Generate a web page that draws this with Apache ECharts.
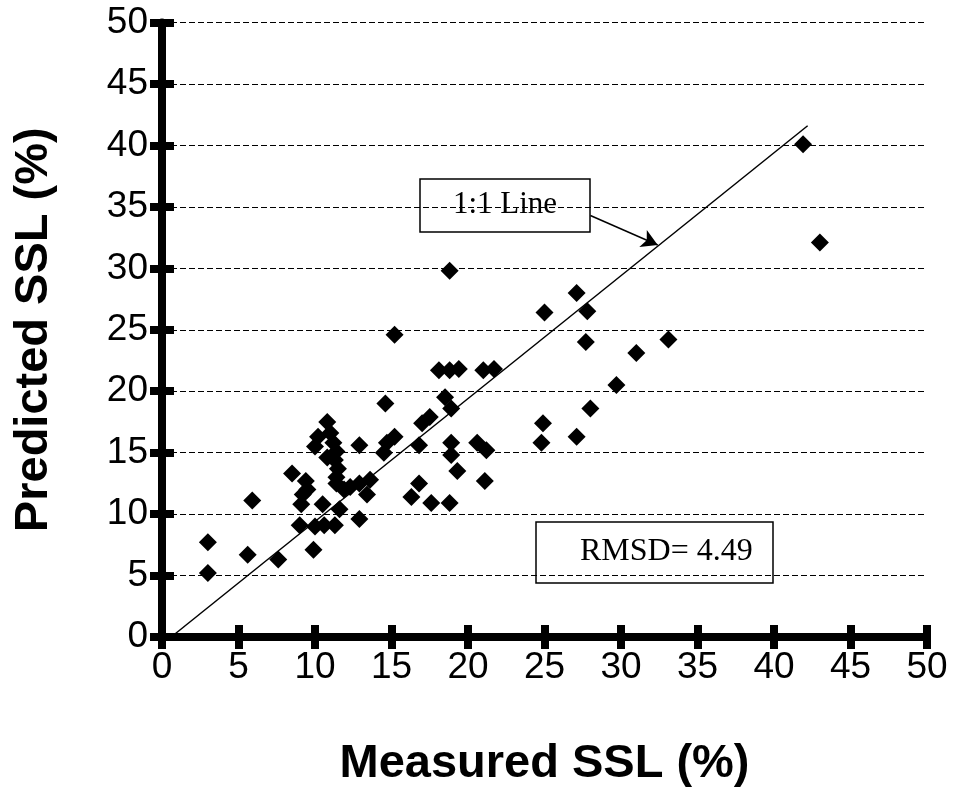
<!DOCTYPE html>
<html>
<head>
<meta charset="utf-8">
<script src="https://cdn.jsdelivr.net/npm/echarts@6/dist/echarts.min.js"></script>
<style>html,body{margin:0;padding:0;background:#fff}#chart{width:953px;height:807px}</style>
</head>
<body>
<div id="chart"></div>
<script>
// ---- data ----
const measured  = [3.0,3.0,5.9,5.6,7.6,8.5,9.9,9.0,10.0,10.6,11.3,12.9,9.1,10.5,11.6,9.2,9.4,9.5,10.8,10.2,10.0,11.0,11.2,11.4,11.3,11.5,11.4,11.4,11.9,12.3,12.9,12.9,13.6,13.4,10.8,14.6,15.2,18.1,18.8,19.4,21.0,21.7,18.5,18.9,17.5,17.0,15.2,14.7,14.5,16.8,18.9,18.9,20.6,21.2,19.3,21.1,16.8,16.3,17.6,18.8,18.8,27.1,25.0,27.8,27.7,31.0,33.1,29.7,28.0,24.9,24.8,27.1,41.9,43.0];
const predicted = [7.7,5.2,11.1,6.7,6.3,13.3,7.1,9.1,9.0,9.1,9.1,9.6,10.8,10.8,10.4,11.6,12.7,12.0,17.5,16.3,15.5,16.6,15.8,15.1,14.4,13.7,13.0,12.5,12.0,12.2,15.6,12.5,12.8,11.6,14.6,19.0,24.6,21.7,21.7,21.8,21.7,21.8,19.5,18.6,17.9,17.4,16.3,15.8,15.0,15.6,15.8,14.8,15.8,15.2,13.5,12.7,12.5,11.4,10.9,10.9,29.8,28.0,26.4,26.5,24.0,23.1,24.2,20.5,18.6,17.4,15.8,16.3,40.1,32.1];
const oneToOneX = [0.6, 42.2];
const oneToOneY = [0.0, 41.6];
const arrowFrom = [28.0, 34.3];
const arrowTo   = [32.4, 31.9];
const axisMin = 0, axisMax = 50, axisStep = 5;
const xTitle = 'Measured SSL (%)';
const yTitle = 'Predicted SSL (%)';
const lineLabel = '1:1 Line';
const rmsdLabel = 'RMSD= 4.49';

const points = measured.map((m, i) => [m, predicted[i]]);
const lineData = oneToOneX.map((x, i) => [x, oneToOneY[i]]);

const sans = '"Liberation Sans", Arial, sans-serif';
const serif = '"Liberation Serif", "Times New Roman", serif';

const chart = echarts.init(document.getElementById('chart'), null, {renderer: 'canvas'});

function baseAxis(extra) {
  return Object.assign({
    type: 'value', min: axisMin, max: axisMax, interval: axisStep,
  }, extra);
}

const option = {
  backgroundColor: '#fff',
  animation: false,
  grid: {left: 162, right: 26, top: 22.5, bottom: 170, containLabel: false, outerBoundsMode: 'none'},
  xAxis: [
    baseAxis({
      position: 'bottom',
      axisLine: {show: true, lineStyle: {color: '#000', width: 8}},
      axisTick: {show: true, inside: false, length: 12, lineStyle: {color: '#000', width: 8}},
      axisLabel: {color: '#000', fontSize: 37, fontFamily: sans, margin: 12},
      splitLine: {show: false},
      name: xTitle, nameLocation: 'middle', nameGap: 104,
      nameTextStyle: {color: '#000', fontSize: 47, fontWeight: 'bold', fontFamily: sans}
    }),
    baseAxis({
      position: 'bottom',
      axisLine: {show: false},
      axisTick: {show: true, inside: true, length: 12, lineStyle: {color: '#000', width: 8}},
      axisLabel: {show: false},
      splitLine: {show: false}
    })
  ],
  yAxis: [
    baseAxis({
      position: 'left',
      axisLine: {show: true, lineStyle: {color: '#000', width: 8}},
      axisTick: {show: true, inside: false, length: 12, lineStyle: {color: '#000', width: 8}},
      axisLabel: {color: '#000', fontSize: 37, fontFamily: sans, margin: 14},
      splitLine: {show: true, lineStyle: {color: '#000', width: 1.2, type: [6, 3]}},
      name: yTitle, nameLocation: 'middle', nameGap: 104,
      nameTextStyle: {color: '#000', fontSize: 47, fontWeight: 'bold', fontFamily: sans}
    }),
    baseAxis({
      position: 'left',
      axisLine: {show: false},
      axisTick: {show: true, inside: true, length: 12, lineStyle: {color: '#000', width: 8}},
      axisLabel: {show: false},
      splitLine: {show: false}
    })
  ],
  series: [
    {
      type: 'line', data: lineData, showSymbol: false, symbol: 'none',
      lineStyle: {color: '#000', width: 1.5}, z: 2, silent: true,
      markLine: {
        silent: true, symbol: ['none', 'arrow'], symbolSize: [14, 16],
        label: {show: false},
        lineStyle: {color: '#000', width: 1.5, type: 'solid'},
        data: [[{coord: arrowFrom}, {coord: arrowTo}]]
      }
    },
    {
      type: 'scatter', data: points, symbol: 'diamond', symbolSize: 18,
      itemStyle: {color: '#000', opacity: 1}, z: 3
    }
  ],
  graphic: [
    {
      type: 'group', z: 100,
      children: [
        {type: 'rect', shape: {x: 420, y: 179, width: 170, height: 53},
         style: {fill: '#fff', stroke: '#000', lineWidth: 1.5}},
        {type: 'text', x: 505, y: 205,
         style: {text: lineLabel, font: '31px ' + serif, fill: '#000', textAlign: 'center', textVerticalAlign: 'middle'}},
        {type: 'rect', shape: {x: 536, y: 522, width: 237, height: 61},
         style: {fill: '#fff', stroke: '#000', lineWidth: 1.5}},
        {type: 'text', x: 580, y: 552,
         style: {text: rmsdLabel, font: '32px ' + serif, fill: '#000', textAlign: 'left', textVerticalAlign: 'middle'}}
      ]
    }
  ]
};
chart.setOption(option);
</script>
</body>
</html>
